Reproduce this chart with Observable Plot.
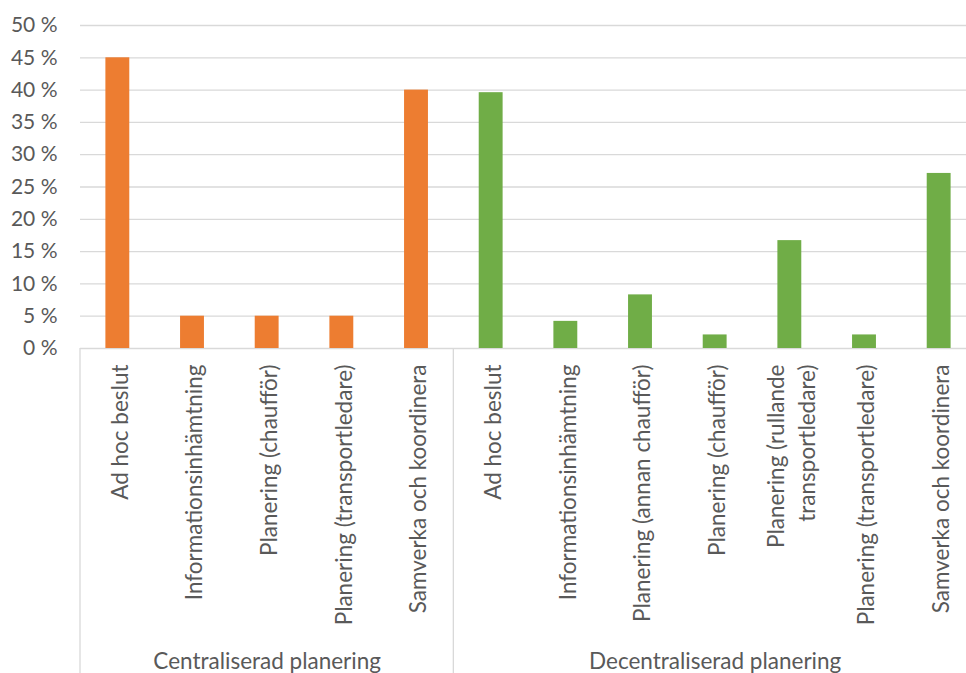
<!DOCTYPE html>
<html>
<head>
<meta charset="utf-8">
<script src="https://cdn.jsdelivr.net/npm/d3@7"></script>
<script src="https://cdn.jsdelivr.net/npm/@observablehq/plot@0.6"></script>
<style>
  html, body { margin: 0; padding: 0; background: #fff; overflow: hidden; }
  #chart svg { max-width: none !important; }
</style>
</head>
<body>
<div id="chart"></div>
<script>
const groups = ["Centraliserad planering", "Decentraliserad planering"];
const groupColors = ["#ED7D31", "#70AD47"];
const centralCategories = ["Ad hoc beslut", "Informationsinhämtning", "Planering (chaufför)", "Planering (transportledare)", "Samverka och koordinera"];
const centralValues = [45, 5, 5, 5, 40];
const decentralCategories = ["Ad hoc beslut", "Informationsinhämtning", "Planering (annan chaufför)", "Planering (chaufför)", "Planering (rullande\ntransportledare)", "Planering (transportledare)", "Samverka och koordinera"];
const decentralValues = [39.6, 4.2, 8.3, 2.1, 16.7, 2.1, 27.1];
const yTicks = [0, 5, 10, 15, 20, 25, 30, 35, 40, 45, 50];

const rows = [];
centralCategories.forEach((c, i) => rows.push({key: `0|${i}`, group: groups[0], label: c, value: centralValues[i]}));
decentralCategories.forEach((c, i) => rows.push({key: `1|${i}`, group: groups[1], label: c, value: decentralValues[i]}));
const keys = rows.map(r => r.key);
const labelOf = new Map(rows.map(r => [r.key, r.label]));
const groupInfo = groups.map((g, gi) => {
  const ks = rows.filter(r => r.group === g).map(r => r.key);
  return {group: g, first: ks[0], last: ks[ks.length - 1], mid: ks[Math.floor(ks.length / 2)]};
});

const fontFamily = "Lato, 'Open Sans', sans-serif";
const textColor = "#595959";
const gridColor = "#d9d9d9";

const chart = Plot.plot({
  width: 977,
  height: 673,
  marginLeft: 80,
  marginRight: 1,
  marginTop: 25,
  marginBottom: 325,
  style: {fontFamily, fontSize: "22.5px", color: textColor, background: "#fff", overflow: "visible", maxWidth: "none"},
  x: {domain: keys, paddingInner: 0.68, paddingOuter: 0.34, round: false, axis: null},
  y: {domain: [0, 50], axis: null},
  color: {domain: groups, range: groupColors},
  marks: [
    Plot.gridY(yTicks, {stroke: gridColor, strokeOpacity: 1, strokeWidth: 1.3}),
    Plot.axisY(yTicks, {tickSize: 0, tickPadding: 23, tickFormat: d => `${d} %`, fill: textColor, fontSize: 21, label: null}),
    Plot.barY(rows, {x: "key", y: "value", fill: "group"}),
    Plot.axisX({tickSize: 0, tickPadding: 16, tickRotate: -90, tickFormat: k => labelOf.get(k), lineHeight: 1.35, fill: textColor, label: null}),
    Plot.text(groupInfo, {x: "mid", text: "group", frameAnchor: "bottom", dy: 320, fill: textColor})
  ]
});

// group separators on the multi-level category axis, positioned via the x and y scales
const xs = chart.scale("x");
const ys = chart.scale("y");
const gap = (xs.step - xs.bandwidth) / 2;
const y0 = ys.apply(0);
const bounds = [];
groupInfo.forEach((g, i) => {
  if (i === 0) bounds.push(xs.apply(g.first) - gap);
  bounds.push(xs.apply(g.last) + xs.bandwidth + gap);
});
const svg = d3.select(chart);
svg.append("g").selectAll("line").data(bounds).join("line")
  .attr("x1", d => d).attr("x2", d => d)
  .attr("y1", y0).attr("y2", 673)
  .attr("stroke", gridColor).attr("stroke-width", 1.3);

document.getElementById("chart").appendChild(chart);
</script>
</body>
</html>
